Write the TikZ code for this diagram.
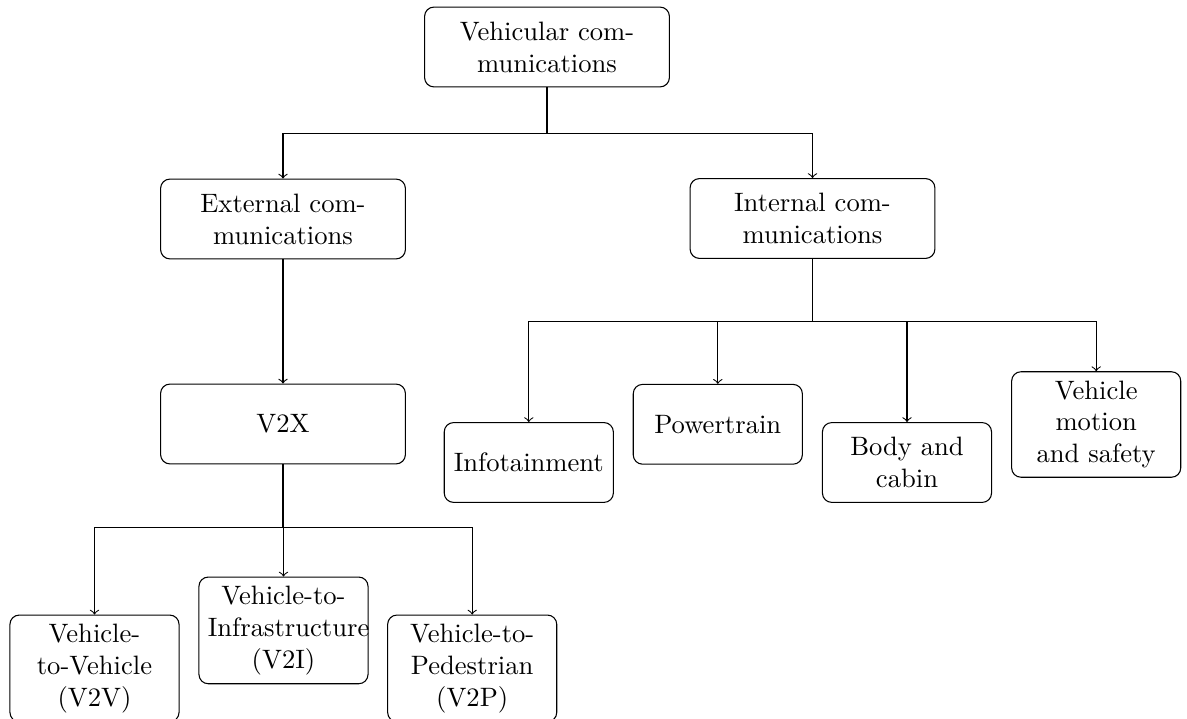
\documentclass[tikz,border=0pt]{standalone}
\begin{document}
\begin{tikzpicture}[
  x=0.3759pt, y=-0.3759pt,
  box/.style={draw, rounded corners=3.5pt, align=center,
              minimum height=30pt, inner sep=0.333em},
  wide/.style={box, text width=3cm},
  narrow/.style={box, text width=2cm},
  link/.style={->}
]
\useasboundingbox (0,0) rectangle (1187,719);

% top levels
\node[wide] (root) at (547,47) {Vehicular communications};
\node[wide] (ext) at (283,219) {External communications};
\node[wide] (int) at (812.5,218.5) {Internal communications};
\node[wide] (v2x) at (283,424) {V2X};

% in-vehicle domains
\node[narrow] (info)  at (528.8,462.5) {Infotainment};
\node[narrow] (power) at (717.8,424.3) {Powertrain};
\node[narrow] (body)  at (907,462.5)   {Body and cabin};
\node[narrow] (vm)    at (1096.2,424.5) {Vehicle motion and safety};

% V2X variants
\node[narrow] (v2v) at (94.5,668.4)  {Vehicle-to-Vehicle (V2V)};
\node[narrow] (v2i) at (283.5,630.4) {Vehicle-to-Infrastructure (V2I)};
\node[narrow] (v2p) at (472.2,668.4) {Vehicle-to-Pedestrian (V2P)};

% bus heights of the forks
\coordinate (busA) at (547,133.5);
\coordinate (busB) at (812.5,321.5);
\coordinate (busC) at (283,527.2);

\foreach \c in {ext,int}
  \draw[link] (root.south) -- (root.south |- busA) -| (\c.north);
\draw[link] (ext.south) -- (v2x.north);
\foreach \c in {info,power,body,vm}
  \draw[link] (int.south) -- (int.south |- busB) -| (\c.north);
\foreach \c in {v2v,v2i,v2p}
  \draw[link] (v2x.south) -- (v2x.south |- busC) -| (\c.north);
\end{tikzpicture}
\end{document}
